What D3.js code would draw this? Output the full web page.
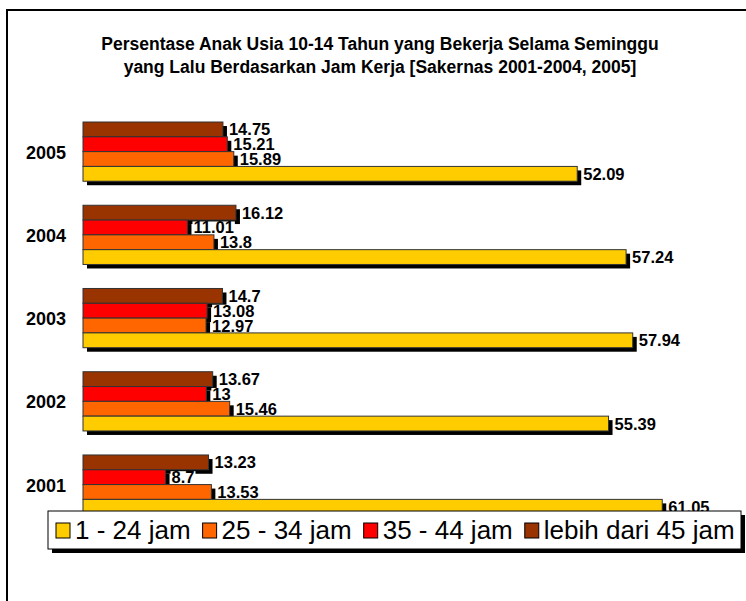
<!DOCTYPE html>
<html>
<head>
<meta charset="utf-8">
<script src="https://cdn.jsdelivr.net/npm/d3@7"></script>
<style>
body{margin:0;background:#fff}
svg{display:block;font-family:Arial,"Liberation Sans",sans-serif}
</style>
</head>
<body>
<svg width="746" height="601"></svg>
<script>
// data
var years = ["2005", "2004", "2003", "2002", "2001"];
var seriesNames = ["lebih dari 45 jam", "35 - 44 jam", "25 - 34 jam", "1 - 24 jam"];
var legendNames = ["1 - 24 jam", "25 - 34 jam", "35 - 44 jam", "lebih dari 45 jam"];
var jam1_24 = [52.09, 57.24, 57.94, 55.39, 61.05];
var jam25_34 = [15.89, 13.8, 12.97, 15.46, 13.53];
var jam35_44 = [15.21, 11.01, 13.08, 13, 8.7];
var jamLebih45 = [14.75, 16.12, 14.7, 13.67, 13.23];
var titleLines = ["Persentase Anak Usia 10-14 Tahun yang Bekerja Selama Seminggu",
                  "yang Lalu Berdasarkan Jam Kerja [Sakernas 2001-2004, 2005]"];

var colors = {"1 - 24 jam": "#FFCC00", "25 - 34 jam": "#FF6600", "35 - 44 jam": "#FF0000", "lebih dari 45 jam": "#993300"};
var valuesBySeries = {"1 - 24 jam": jam1_24, "25 - 34 jam": jam25_34, "35 - 44 jam": jam35_44, "lebih dari 45 jam": jamLebih45};

var rows = [];
years.forEach(function(y, i){
    seriesNames.forEach(function(s){
        rows.push({year: y, series: s, value: valuesBySeries[s][i]});
    });
});

var svg = d3.select("svg");

// chart frame (runs off the right and bottom edge)
svg.append("rect")
    .attr("x", 7).attr("y", 10).attr("width", 800).attr("height", 700)
    .attr("fill", "#fff").attr("stroke", "#000").attr("stroke-width", 2);

svg.append("g").selectAll("text")
    .data(titleLines)
    .enter().append("text")
    .attr("x", 380)
    .attr("y", function(d, i){ return 50 + i * 23; })
    .attr("text-anchor", "middle")
    .attr("font-size", 17.5)
    .attr("font-weight", "bold")
    .text(function(d){ return d; });

var x = d3.scaleLinear().domain([0, 70]).range([83, 83 + 70 * 9.488]);
var y = d3.scaleBand().domain(years).range([110, 526.2]).paddingInner(0.2885).paddingOuter(0.14425);
var ySub = d3.scaleBand().domain(seriesNames).range([0, y.bandwidth()]);

// year labels
svg.append("g").selectAll("text")
    .data(years)
    .enter().append("text")
    .attr("x", 66)
    .attr("y", function(d){ return y(d) + y.bandwidth() / 2 + 7; })
    .attr("text-anchor", "end")
    .attr("font-size", 18)
    .attr("font-weight", "bold")
    .text(function(d){ return d; });

var bars = svg.append("g");

// shadows first, then bars
bars.selectAll(".shadow")
    .data(rows)
    .enter().append("rect")
    .attr("class", "shadow")
    .attr("x", x(0) + 4)
    .attr("y", function(d){ return y(d.year) + ySub(d.series) + 4; })
    .attr("width", function(d){ return x(d.value) - x(0); })
    .attr("height", ySub.bandwidth())
    .attr("fill", "#000");

bars.selectAll(".bar")
    .data(rows)
    .enter().append("rect")
    .attr("class", "bar")
    .attr("x", x(0))
    .attr("y", function(d){ return y(d.year) + ySub(d.series); })
    .attr("width", function(d){ return x(d.value) - x(0); })
    .attr("height", ySub.bandwidth())
    .attr("fill", function(d){ return colors[d.series]; })
    .attr("stroke", "#333")
    .attr("stroke-width", 1);

// value labels with white backing, drawn top to bottom
var labels = svg.append("g").selectAll("g")
    .data(rows)
    .enter().append("g")
    .attr("transform", function(d){
        return "translate(" + (x(d.value) + 6) + "," + (y(d.year) + ySub(d.series) + ySub.bandwidth() / 2 + 6) + ")";
    });

labels.append("rect").attr("fill", "#fff");
labels.append("text")
    .attr("font-size", 16.5)
    .attr("font-weight", "bold")
    .text(function(d){ return d.value; });
labels.each(function(){
    var g = d3.select(this);
    var b = g.select("text").node().getBBox();
    g.select("rect").attr("x", b.x - 1).attr("y", b.y + 3).attr("width", b.width + 2).attr("height", b.height - 6);
});

// legend
var legend = svg.append("g");
legend.append("rect")
    .attr("x", 52).attr("y", 515).attr("width", 693).attr("height", 38)
    .attr("fill", "#000");
legend.append("rect")
    .attr("x", 48).attr("y", 511).attr("width", 693).attr("height", 38)
    .attr("fill", "#fff").attr("stroke", "#000").attr("stroke-width", 1);

var lx = 56;
legendNames.forEach(function(name){
    legend.append("rect")
        .attr("x", lx).attr("y", 523).attr("width", 14).attr("height", 15)
        .attr("fill", colors[name]).attr("stroke", "#000").attr("stroke-width", 1);
    var t = legend.append("text")
        .attr("x", lx + 19).attr("y", 539)
        .attr("font-size", 26)
        .text(name);
    lx += 19 + t.node().getComputedTextLength() + 12;
});
</script>
</body>
</html>
